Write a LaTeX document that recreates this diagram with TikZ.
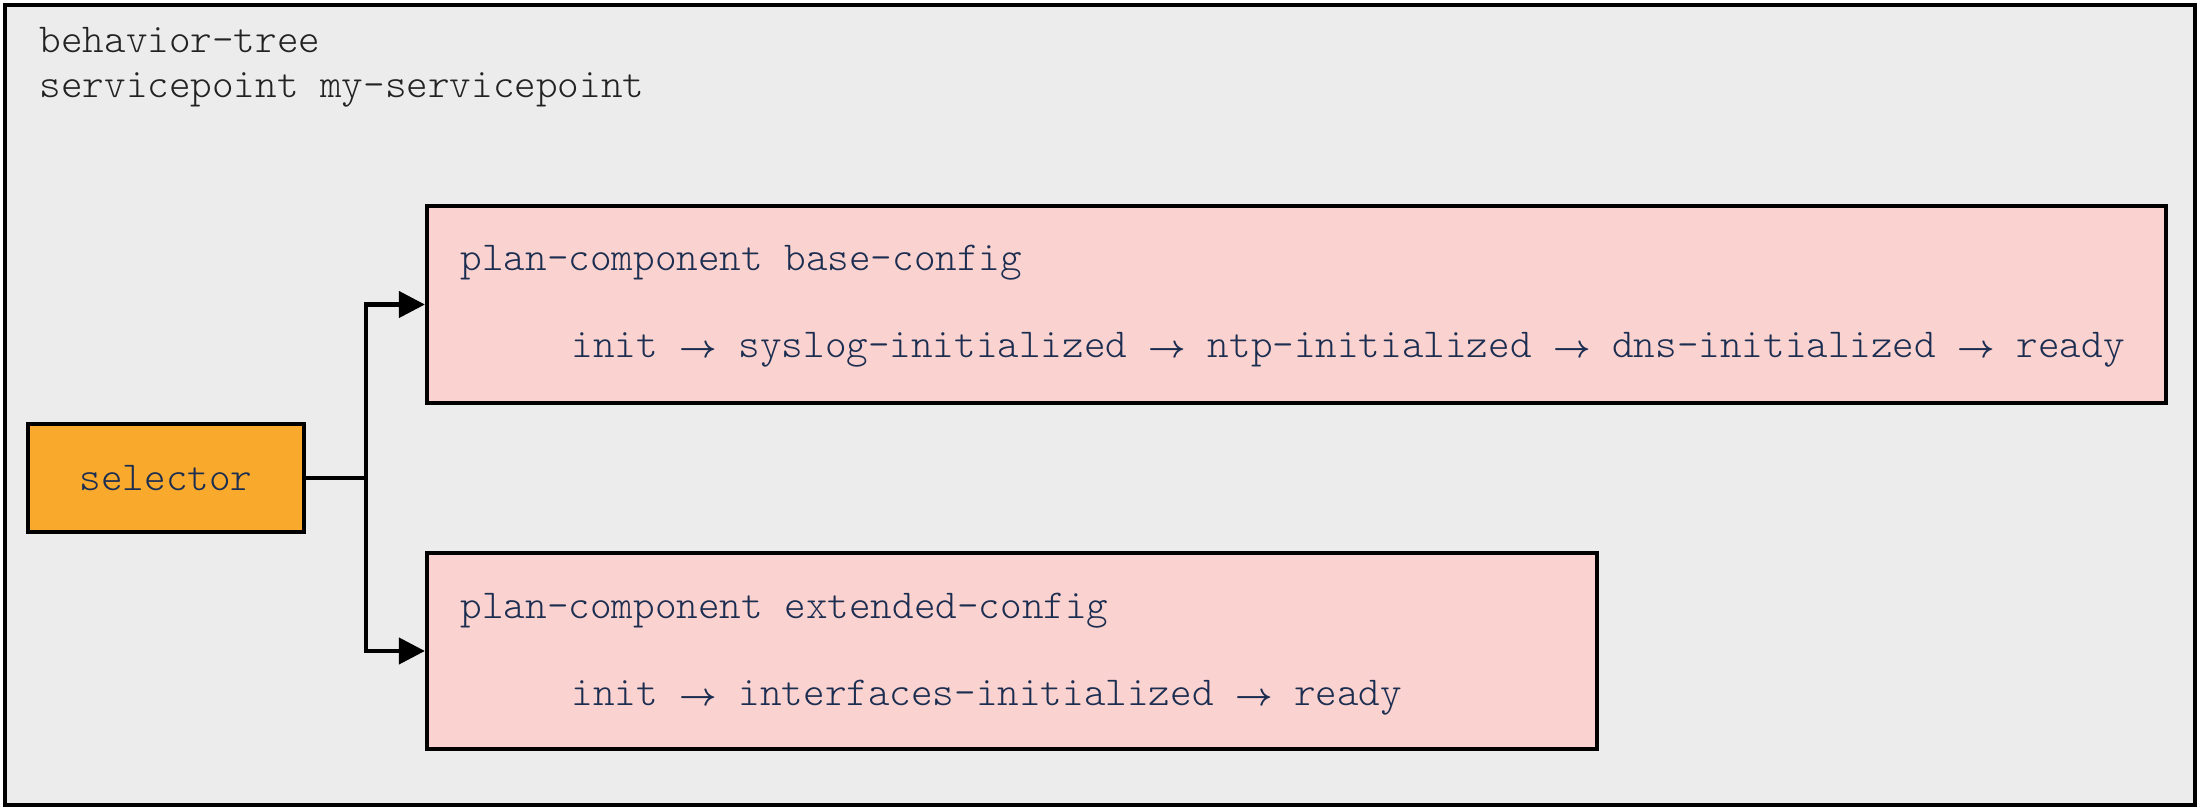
\documentclass[tikz,border=0pt]{standalone}
\usepackage{fontspec}
\setmonofont{Latin Modern Mono Light}
\usepackage{tikz}
\usetikzlibrary{positioning, arrows.meta, shapes}
\definecolor{fondo}{HTML}{ECECEC}
\definecolor{rosa}{HTML}{FAD2CF}
\definecolor{naranja}{HTML}{F9AA2D}
\definecolor{marino}{HTML}{1B2D50}
\definecolor{gris}{HTML}{222222}
\newcommand{\ra}{{\fontsize{9.5}{10}\selectfont\boldmath$\rightarrow$}}
\tikzset{
    frame/.style={draw, rectangle, fill=fondo, line width=1.2pt},
    plan/.style={draw, rectangle, fill=rosa, line width=1.2pt},
    sel/.style={draw, rectangle, fill=naranja, line width=1.2pt, text=marino, font=\txt},
    lbl/.style={anchor=base west, inner sep=0pt, font=\txt},
    conn/.style={-{Triangle[length=0.26cm, width=0.26cm]}, line width=1.2pt},
}
\newcommand{\txt}{\ttfamily\fontsize{11.7}{13}\selectfont}

\begin{document}
\begin{tikzpicture}
        \useasboundingbox (0,0) rectangle (22,8.11);

        \node [frame, minimum width=21.9cm, minimum height=8cm] (tree) at (11,4.06) {};
        \node [lbl, gris] (t1) at (0.39,7.58) {behavior-tree};
        \node [lbl, gris] (t2) at (0.39,7.13) {servicepoint my-servicepoint};

        \node [sel, minimum width=2.76cm, minimum height=1.08cm] (selector) at (1.66,3.33) {selector};

        \node [plan, minimum width=17.39cm, minimum height=1.97cm] (base) at (12.965,5.065) {};
        \node [lbl, marino] (baseT) at (4.60,5.40) {plan-component base-config};
        \node [lbl, marino] (baseS) at (5.71,4.53) {init \ra{} syslog-initialized \ra{} ntp-initialized \ra{} dns-initialized \ra{} ready};

        \node [plan, minimum width=11.70cm, minimum height=1.96cm] (ext) at (10.12,1.60) {};
        \node [lbl, marino] (extT) at (4.60,1.93) {plan-component extended-config};
        \node [lbl, marino] (extS) at (5.71,1.06) {init \ra{} interfaces-initialized \ra{} ready};

        \coordinate (junc) at (3.66,3.33);

        \draw [line width=1.2pt] (selector.east) -- (junc);
        \draw [conn] (junc) |- (base.west);
        \draw [conn] (junc) |- (ext.west);
    \end{tikzpicture}
\end{document}
